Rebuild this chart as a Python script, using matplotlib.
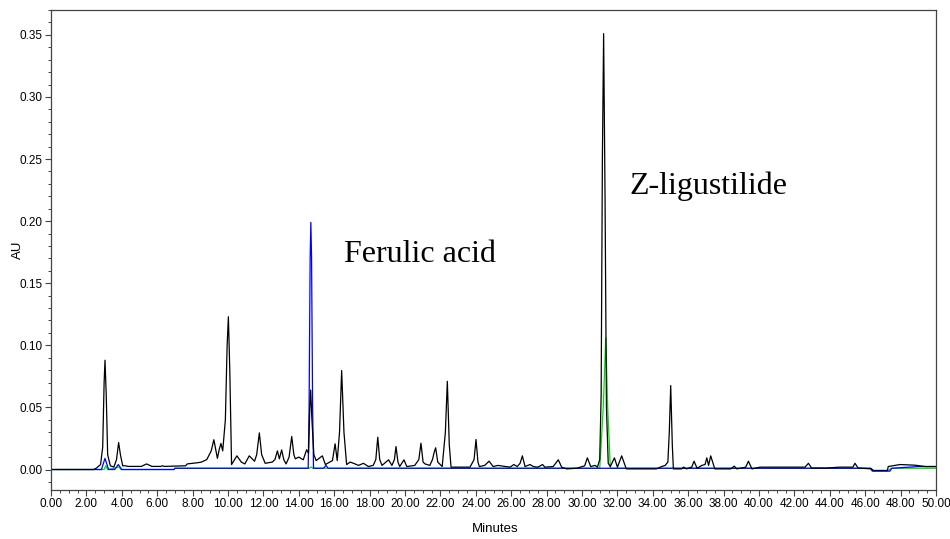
import matplotlib
matplotlib.use("Agg")
import matplotlib.pyplot as plt
from matplotlib import font_manager
from matplotlib.ticker import MultipleLocator, FormatStrFormatter

# black trace, minutes / AU
black_t = [0.0, 2.4, 2.55, 2.8, 2.92, 3.0, 3.05, 3.12, 3.2, 3.35, 3.55, 3.7, 3.82, 3.92, 4.05,
           4.2, 4.35, 5.1, 5.4, 5.7, 6.2, 6.3, 6.4, 7.6, 7.7, 8.0, 8.3, 8.5, 8.8, 9.05,
           9.2, 9.4, 9.5, 9.6, 9.7, 9.85, 9.95, 10.02, 10.1, 10.2, 10.5, 10.75, 10.95, 11.2, 11.5,
           11.62, 11.77, 11.9, 12.1, 12.5, 12.65, 12.79, 12.9, 13.03, 13.15, 13.28, 13.45, 13.6, 13.72, 13.8,
           14.0, 14.25, 14.44, 14.55, 14.62, 14.67, 14.74, 14.85, 14.98, 15.33, 15.5, 15.9, 16.05, 16.17, 16.3,
           16.42, 16.55, 16.7, 16.9, 17.18, 17.37, 17.65, 17.93, 18.2, 18.35, 18.46, 18.57, 18.7, 19.07, 19.26,
           19.4, 19.49, 19.6, 19.7, 19.94, 20.1, 20.55, 20.78, 20.9, 21.02, 21.13, 21.4, 21.55, 21.65, 21.73,
           21.85, 22.1, 22.28, 22.39, 22.5, 22.6, 23.67, 23.9, 24.01, 24.12, 24.2, 24.5, 24.75, 24.98, 25.25,
           25.93, 26.15, 26.34, 26.5, 26.63, 26.78, 27.06, 27.25, 27.5, 27.77, 27.9, 28.37, 28.66, 28.85, 29.13,
           29.7, 30.15, 30.3, 30.49, 30.74, 30.87, 31.0, 31.08, 31.15, 31.22, 31.3, 31.38, 31.48, 31.6, 31.83,
           32.0, 32.24, 32.5, 34.2, 34.5, 34.7, 34.85, 34.93, 35.01, 35.1, 35.16, 35.63, 35.73, 35.9, 36.2,
           36.33, 36.5, 36.77, 36.95, 37.05, 37.15, 37.27, 37.4, 37.5, 38.4, 38.6, 38.74, 39.25, 39.4, 39.6,
           40.05, 42.6, 42.79, 42.97, 43.8, 44.56, 45.3, 45.42, 45.6, 46.36, 46.45, 47.25, 47.3, 47.96, 48.8,
           49.4, 50.0]
black_au = [0.0, 0.0, 0.001, 0.004, 0.018, 0.07, 0.088, 0.06, 0.012, 0.003, 0.002, 0.008, 0.0217, 0.012, 0.003,
            0.003, 0.0025, 0.0025, 0.0045, 0.0025, 0.0025, 0.003, 0.0025, 0.003, 0.0045, 0.005, 0.0055, 0.006, 0.008, 0.015,
            0.024, 0.009, 0.016, 0.021, 0.015, 0.04, 0.1, 0.123, 0.08, 0.004, 0.011, 0.006, 0.0045, 0.011, 0.0067,
            0.012, 0.0295, 0.012, 0.005, 0.006, 0.008, 0.015, 0.0086, 0.0158, 0.008, 0.0045, 0.01, 0.0266, 0.012, 0.0086,
            0.01, 0.0078, 0.016, 0.013, 0.05, 0.064, 0.04, 0.012, 0.0072, 0.011, 0.004, 0.0072, 0.0207, 0.0072, 0.03,
            0.0797, 0.03, 0.004, 0.006, 0.0045, 0.0033, 0.005, 0.0024, 0.0033, 0.008, 0.026, 0.008, 0.0033, 0.0078, 0.0033,
            0.008, 0.0185, 0.006, 0.0024, 0.0078, 0.0024, 0.0033, 0.008, 0.0212, 0.006, 0.0045, 0.0033, 0.008, 0.014, 0.0175,
            0.006, 0.0024, 0.03, 0.071, 0.02, 0.0019, 0.0019, 0.008, 0.0242, 0.006, 0.0024, 0.0033, 0.0067, 0.0024, 0.0033,
            0.0019, 0.004, 0.0024, 0.005, 0.011, 0.0024, 0.004, 0.0024, 0.0019, 0.004, 0.0019, 0.0024, 0.0078, 0.0019, 0.0005,
            0.001, 0.003, 0.0094, 0.0024, 0.0033, 0.0019, 0.008, 0.06, 0.25, 0.351, 0.22, 0.05, 0.005, 0.0024, 0.0094,
            0.0019, 0.011, 0.0005, 0.0005, 0.0024, 0.0033, 0.006, 0.03, 0.0676, 0.02, 0.0005, 0.0005, 0.0019, 0.0005, 0.002,
            0.0067, 0.001, 0.0033, 0.004, 0.0094, 0.0033, 0.011, 0.005, 0.0005, 0.0005, 0.0027, 0.0005, 0.0019, 0.0067, 0.0005,
            0.0019, 0.0019, 0.005, 0.0012, 0.0012, 0.0019, 0.0019, 0.005, 0.0012, 0.0005, -0.0008, -0.0008, 0.0024, 0.004, 0.0035,
            0.0024, 0.0024]

# blue trace
blue_t = [0.0, 2.85, 3.05, 3.25, 3.6, 3.8, 4.0, 6.95, 7.0, 14.53, 14.58, 14.64, 14.68, 14.72, 14.78,
          14.83, 15.4, 15.54, 15.65, 46.3, 46.4, 47.4, 47.5, 49.0, 50.0]
blue_au = [0.0, 0.0, 0.009, 0.0, 0.0, 0.004, 0.0, 0.0, 0.001, 0.001, 0.05, 0.17, 0.199, 0.17, 0.05,
           0.001, 0.001, 0.0033, 0.001, 0.001, -0.0013, -0.0013, 0.001, 0.0024, 0.0024]

# green trace
green_t = [0.0, 3.0, 3.1, 3.2, 3.85, 3.95, 6.95, 7.0, 14.6, 14.7, 14.8, 31.0, 31.2, 31.34, 31.45,
           31.6, 46.3, 46.45, 47.3, 47.45, 50.0]
green_au = [0.0, 0.0, 0.003, 0.0, 0.002, 0.0, 0.0, 0.001, 0.001, 0.002, 0.001, 0.001, 0.05, 0.106, 0.05,
            0.001, 0.001, -0.0008, -0.0008, 0.001, 0.001]

peak_names = ["Ferulic acid", "Z-ligustilide"]
peak_label_pos = [(16.55, 0.167), (32.7, 0.222)]

available = {f.name for f in font_manager.fontManager.ttflist}
tick_font = "Liberation Sans Narrow" if "Liberation Sans Narrow" in available else "Liberation Sans"

fig = plt.figure(figsize=(9.5, 5.39), dpi=100)
ax = fig.add_axes([0.0537, 0.0909, 0.9316, 0.8905])

ax.plot(green_t, green_au, color="#00e000", lw=0.9)
ax.plot(blue_t, blue_au, color="#0000ff", lw=0.9)
ax.plot(black_t, black_au, color="black", lw=0.9)

for name, (tx, ty) in zip(peak_names, peak_label_pos):
    ax.text(tx, ty, name, fontsize=23, family="Liberation Serif", ha="left", va="baseline")

ax.set_xlim(0, 50)
ax.set_ylim(-0.0165, 0.370)
ax.xaxis.set_major_locator(MultipleLocator(2))
ax.xaxis.set_minor_locator(MultipleLocator(0.5))
ax.yaxis.set_major_locator(MultipleLocator(0.05))
ax.yaxis.set_minor_locator(MultipleLocator(0.01))
ax.xaxis.set_major_formatter(FormatStrFormatter("%.2f"))
ax.yaxis.set_major_formatter(FormatStrFormatter("%.2f"))
ax.tick_params(which="major", direction="out", length=4, width=0.8, color="#444444", pad=2)
ax.tick_params(which="minor", direction="out", length=2.2, width=0.7, color="#444444")
for lab in ax.get_xticklabels() + ax.get_yticklabels():
    lab.set_family(tick_font)
    lab.set_fontsize(8.5)
for sp in ax.spines.values():
    sp.set_color("#444444")
    sp.set_linewidth(0.9)

fig.text(18 / 950, 1 - 250 / 539, "AU", family=tick_font, fontsize=9.5,
         rotation=90, ha="center", va="center")
fig.text(495 / 950, 1 - 529 / 539, "Minutes", family=tick_font, fontsize=9.5,
         ha="center", va="center")

fig.savefig("out.png", dpi=100)
